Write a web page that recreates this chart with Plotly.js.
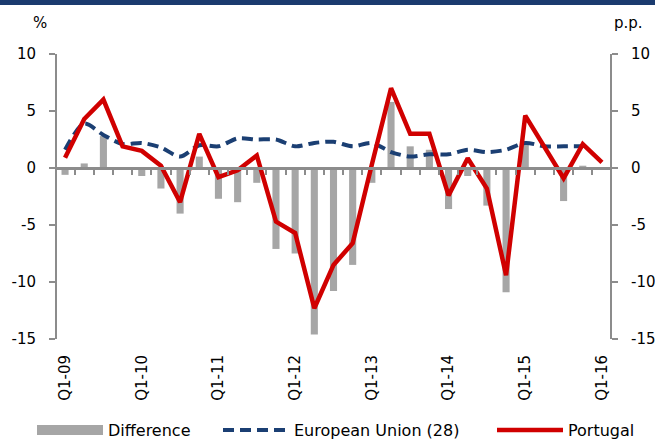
<!DOCTYPE html>
<html>
<head>
<meta charset="utf-8">
<script src="https://cdn.plot.ly/plotly-3.0.1.min.js"></script>
<style>
  html, body { margin: 0; padding: 0; background: #fff; }
  #chart { width: 655px; height: 439px; }
</style>
</head>
<body>
<div id="chart"></div>
<script>
const categories = [
  "Q1-09","Q2-09","Q3-09","Q4-09",
  "Q1-10","Q2-10","Q3-10","Q4-10",
  "Q1-11","Q2-11","Q3-11","Q4-11",
  "Q1-12","Q2-12","Q3-12","Q4-12",
  "Q1-13","Q2-13","Q3-13","Q4-13",
  "Q1-14","Q2-14","Q3-14","Q4-14",
  "Q1-15","Q2-15","Q3-15","Q4-15",
  "Q1-16"
];
const tickLabels = ["Q1-09","Q1-10","Q1-11","Q1-12","Q1-13","Q1-14","Q1-15","Q1-16"];
const portugal = [0.9, 4.3, 6.0, 1.9, 1.5, 0.2, -3.0, 3.0, -0.8, -0.2, 1.1, -4.7, -5.7, -12.3, -8.5, -6.6, 0.3, 7.0, 3.0, 3.0, -2.4, 0.85, -1.8, -9.4, 4.6, 1.9, -0.9, 2.1, 0.5];
const europeanUnion = [1.6, 3.9, 2.9, 2.1, 2.2, 1.8, 1.0, 2.0, 1.9, 2.6, 2.5, 2.5, 1.9, 2.2, 2.3, 1.9, 2.2, 1.4, 1.0, 1.2, 1.2, 1.6, 1.4, 1.6, 2.2, 1.9, 1.9, 1.9, null];
const difference = [-0.6, 0.4, 2.8, -0.1, -0.7, -1.8, -4.0, 1.0, -2.7, -3.0, -1.3, -7.1, -7.5, -14.6, -10.8, -8.5, -1.3, 5.8, 1.9, 1.6, -3.6, -0.7, -3.3, -10.9, 2.3, 0.0, -2.9, 0.2, null];
const yTickVals = [-15, -10, -5, 0, 5, 10];
const yTickText = ["-15", "-10", "-5", "0", "5", "10"];

const FONT = "DejaVu Sans, Verdana, sans-serif";
const AXIS_GRAY = "#8c8c8c";
const BAR_GRAY = "#a6a6a6";
const xr = [-0.42, 28.42];

const traces = [
  {
    type: "bar", name: "Difference",
    x: categories, y: difference,
    xaxis: "x2", yaxis: "y2",
    marker: { color: BAR_GRAY },
    showlegend: false,
    hoverinfo: "skip"
  },
  {
    // legend key only for the Difference bars (wide swatch like the original)
    type: "scatter", mode: "lines", name: "Difference",
    x: [null], y: [null],
    xaxis: "x2", yaxis: "y2",
    line: { color: BAR_GRAY, width: 11 },
    legend: "legend", showlegend: true, hoverinfo: "skip"
  },
  {
    type: "scatter", mode: "lines", name: "European Union (28)",
    x: categories, y: europeanUnion,
    xaxis: "x", yaxis: "y",
    line: { color: "#1b3f73", width: 4, dash: "11px,6px", shape: "spline", smoothing: 0.8 },
    legend: "legend2"
  },
  {
    type: "scatter", mode: "lines", name: "Portugal",
    x: categories, y: portugal,
    xaxis: "x", yaxis: "y",
    line: { color: "#d00000", width: 4.5 },
    legend: "legend3"
  }
];

const axisY = {
  range: [-15, 10],
  tickvals: yTickVals, ticktext: yTickText,
  ticks: "outside", ticklen: 6, tickwidth: 2, tickcolor: AXIS_GRAY,
  showline: true, linecolor: AXIS_GRAY, linewidth: 2,
  showgrid: false, zeroline: false,
  tickfont: { family: FONT, size: 15, color: "#000" },
  ticklabelstandoff: 10,
  fixedrange: true
};

function legendAt(xPx) {
  return {
    orientation: "h", xref: "container", yref: "container",
    x: xPx / 655, xanchor: "left", y: 9 / 439, yanchor: "middle",
    font: { family: FONT, size: 16, color: "#000" },
    itemwidth: 66, bgcolor: "rgba(0,0,0,0)", borderwidth: 0
  };
}

const layout = {
  width: 655, height: 439,
  margin: { l: 57, r: 45, t: 54, b: 100, pad: 0 },
  paper_bgcolor: "#fff", plot_bgcolor: "rgba(0,0,0,0)",
  font: { family: FONT, size: 15, color: "#000" },
  barmode: "overlay", bargap: 0.63,
  showlegend: true,
  legend: legendAt(32),
  legend2: legendAt(218),
  legend3: legendAt(492),
  xaxis2: {
    type: "category", categoryorder: "array", categoryarray: categories,
    range: xr, anchor: "free", position: 0.6,
    showticklabels: false, ticks: "outside", tickson: "boundaries",
    ticklen: 5, tickwidth: 2, tickcolor: AXIS_GRAY,
    showline: true, linecolor: AXIS_GRAY, linewidth: 2.5,
    showgrid: false, zeroline: false, fixedrange: true
  },
  xaxis: {
    type: "category", categoryorder: "array", categoryarray: categories,
    range: xr, overlaying: "x2", anchor: "y",
    tickvals: tickLabels, ticktext: tickLabels,
    tickangle: -90, ticks: "", showline: false, showgrid: false, zeroline: false,
    tickfont: { family: FONT, size: 15, color: "#000" },
    ticklabelstandoff: 12,
    automargin: false,
    fixedrange: true
  },
  yaxis2: Object.assign({}, axisY, { side: "right", anchor: "x2" }),
  yaxis: Object.assign({}, axisY, { side: "left", overlaying: "y2", anchor: "x" }),
  shapes: [
    { type: "rect", xref: "paper", yref: "paper", x0: -0.2, x1: 1.2,
      y0: 1 + 49 / 285, y1: 1 + 60 / 285, fillcolor: "#1b3b6f", line: { width: 0 }, layer: "above" }
  ],
  annotations: [
    { text: "%", xref: "paper", yref: "paper", x: (40 - 57) / 553, y: 1 + (54 - 23) / 285,
      xanchor: "center", yanchor: "middle", showarrow: false, font: { family: FONT, size: 15, color: "#000" } },
    { text: "p.p.", xref: "paper", yref: "paper", x: (628 - 57) / 553, y: 1 + (54 - 23) / 285,
      xanchor: "center", yanchor: "middle", showarrow: false, font: { family: FONT, size: 15, color: "#000" } }
  ]
};

Plotly.newPlot("chart", traces, layout, { displayModeBar: false, staticPlot: true });
</script>
</body>
</html>
